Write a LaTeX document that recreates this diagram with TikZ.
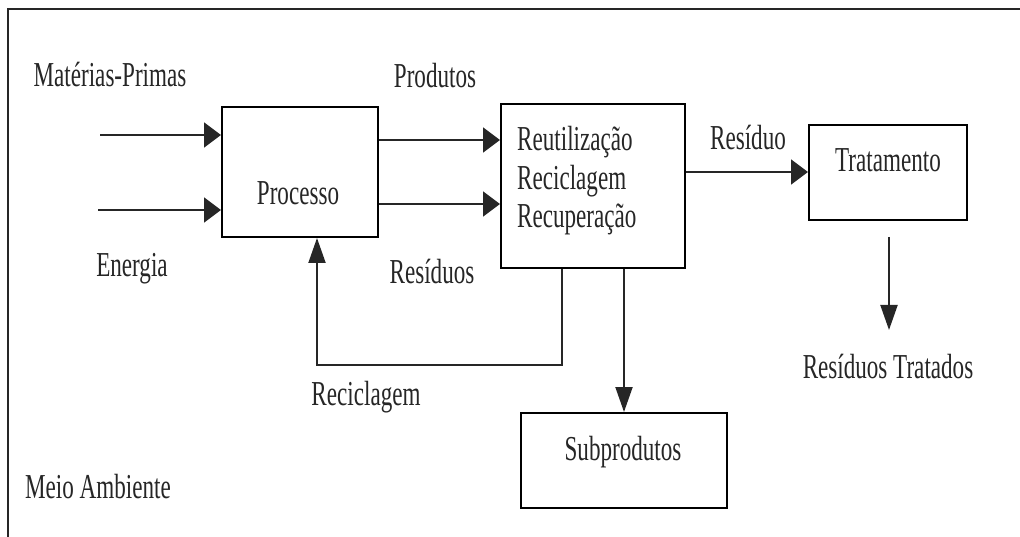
\documentclass[tikz,border=0pt]{standalone}
\usepackage{fontspec}
\setmainfont{Liberation Serif}[FakeStretch=0.66]
\usetikzlibrary{arrows.meta}
\begin{document}
\begin{tikzpicture}[x=1pt,y=-1pt,
  every node/.style={font=\fontsize{35}{40}\selectfont, text=black!85},
  box/.style={draw, line width=2pt, inner sep=0pt, minimum width=#1},
  txt/.style={anchor=base, inner sep=0pt},
  line/.style={line width=2pt, draw=black!85},
  harr/.style={line, -{Triangle[length=17pt,width=25pt]}},
  varr/.style={line, -{Triangle[length=25pt,width=17pt]}}]
\useasboundingbox (0,0) rectangle (1020,537);
% frame
\draw[line] (1020,9) -- (8,9) -- (8,537);
% boxes
\node[box=156pt, minimum height=130pt] (proc) at (300,172) {};
\node[box=184pt, minimum height=164pt] (reuse) at (593,186) {};
\node[box=158pt, minimum height=95pt] (trat) at (888,172.5) {};
\node[box=206pt, minimum height=95pt] (subp) at (624,460.5) {};
% box texts
\node[txt] (tproc) at (298,205) {Processo};
\node[txt, anchor=base west] (t1) at (517,151) {Reutilização};
\node[txt, anchor=base west] (t2) at (517,190) {Reciclagem};
\node[txt, anchor=base west] (t3) at (517,228) {Recuperação};
\node[txt] (ttrat) at (888,172) {Tratamento};
\node[txt] (tsubp) at (623,460) {Subprodutos};
% labels
\node[txt] (lmat) at (110,87) {Matérias-Primas};
\node[txt] (lene) at (132,277) {Energia};
\node[txt] (lprod) at (435,88) {Produtos};
\node[txt] (lres) at (432,284) {Resíduos};
\node[txt] (lresiduo) at (748,150) {Resíduo};
\node[txt] (lrt) at (888,378) {Resíduos Tratados};
\node[txt] (lrec) at (366,405) {Reciclagem};
\node[txt] (lmeio) at (98,498) {Meio Ambiente};
% coordinates
\coordinate (m1) at (100,135);
\coordinate (e1) at (98,210);
\coordinate (tdA) at (889,237);
\coordinate (tdB) at (889,330);
\coordinate (rc1) at (562,365);
\coordinate (rc2) at (317,365);
% connectors
\draw[harr] (m1) -- (m1 -| proc.west);
\draw[harr] (e1) -- (e1 -| proc.west);
\draw[harr] (proc.east |- 0,140) -- (reuse.west |- 0,140);
\draw[harr] (proc.east |- 0,204) -- (reuse.west |- 0,204);
\draw[harr] (reuse.east |- 0,172) -- (trat.west |- 0,172);
\draw[varr] (tdA) -- (tdB);
\draw[varr] (reuse.south -| 624,0) -- (subp.north -| 624,0);
\draw[varr] (reuse.south -| rc1) -- (rc1) -- (rc2) -- (proc.south -| rc2);
\end{tikzpicture}
\end{document}
